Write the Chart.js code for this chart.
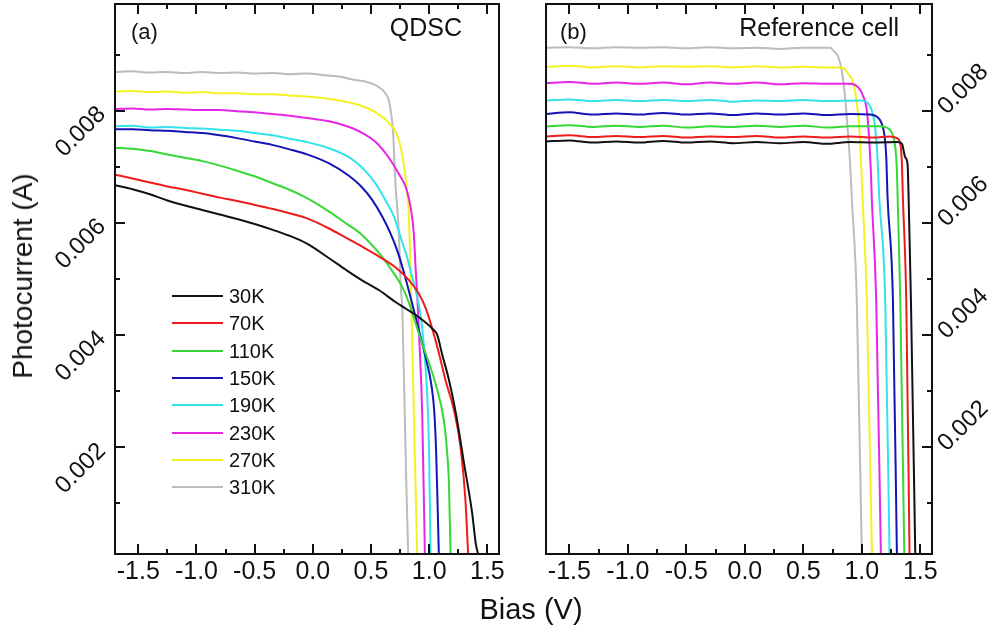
<!DOCTYPE html>
<html>
<head>
<meta charset="utf-8">
<script src="https://cdn.jsdelivr.net/npm/chart.js@4.4.1/dist/chart.umd.min.js"></script>
<style>
  body { margin: 0; background: #fff; }
  #wrap { position: relative; width: 1000px; height: 632px; overflow: hidden; font-family: 'Liberation Sans', Arial, sans-serif; color: #111; }
  canvas { position: absolute; top: 0; }
  .txt { position: absolute; line-height: 1; white-space: nowrap; }
  .legend-row { position: absolute; left: 172px; height: 20px; }
  .legend-row span.ln { position: absolute; left: 0; top: 9px; width: 51px; height: 2px; }
  .legend-row span.lb { position: absolute; left: 57px; top: 0; font-size: 20px; line-height: 20px; }
</style>
</head>
<body>
<div id="wrap">
  <canvas id="chartA" width="520" height="632" style="left:0"></canvas>
  <canvas id="chartB" width="480" height="632" style="left:520px"></canvas>
  <div class="txt" style="left:131px; top:21px; font-size:22px;">(a)</div>
  <div class="txt" style="right:538px; top:15px; font-size:25px;">QDSC</div>
  <div class="txt" style="left:560px; top:21px; font-size:22px;">(b)</div>
  <div class="txt" style="right:101px; top:15px; font-size:25px;">Reference cell</div>
  <div class="txt" style="left:23px; top:276px; font-size:28px; transform: translate(-50%,-50%) rotate(-90deg);">Photocurrent (A)</div>
  <div class="txt" style="left:531px; top:609px; font-size:29px; transform: translate(-50%,-50%);">Bias (V)</div>
  <div id="legend"></div>
</div>
<script>
// DATA
let labels = ['30K', '70K', '110K', '150K', '190K', '230K', '270K', '310K'];
let colors = ['#111111', '#ee1c1c', '#36d836', '#1414b4', '#34e2ea', '#e626e6', '#f2f222', '#bcbcbc'];

let xTicks = [-1.5, -1.0, -0.5, 0.0, 0.5, 1.0, 1.5];
let xMinor = [-1.25, -0.75, -0.25, 0.25, 0.75, 1.25];
let yTicks = [0.002, 0.004, 0.006, 0.008];
let yMinor = [0.001, 0.003, 0.005, 0.007, 0.009];

// (a) QDSC  [bias V, current A]
let qd30 = [[-1.7,0.00667],[-1.55,0.0066],[-1.4,0.00651],[-1.25,0.0064],[-1.1,0.00631],[-0.95,0.00623],[-0.8,0.00615],[-0.65,0.00607],[-0.5,0.00598],[-0.35,0.00588],[-0.2,0.00577],[-0.05,0.00563],[0.14,0.00537],[0.28,0.00517],[0.42,0.00498],[0.57,0.0048],[0.71,0.00459],[0.8,0.00447],[0.91,0.00432],[1.03,0.00411],[1.07,0.004],[1.11,0.00367],[1.17,0.0032],[1.23,0.0026],[1.3,0.00171],[1.37,0.00082],[1.4,0.00029],[1.42,0.0001]];
let qd70 = [[-1.7,0.00686],[-1.55,0.00679],[-1.4,0.00672],[-1.25,0.00665],[-1.1,0.00659],[-0.95,0.00652],[-0.8,0.00645],[-0.65,0.00639],[-0.5,0.00632],[-0.35,0.00625],[-0.2,0.00617],[-0.05,0.00608],[0.14,0.0059],[0.28,0.00574],[0.42,0.00558],[0.57,0.0054],[0.71,0.00521],[0.83,0.00497],[0.91,0.00474],[0.97,0.00448],[1.07,0.00379],[1.14,0.0032],[1.22,0.0026],[1.27,0.002],[1.31,0.00111],[1.335,0.0001]];
let qd110 = [[-1.7,0.00734],[-1.55,0.00732],[-1.4,0.00728],[-1.25,0.00722],[-1.1,0.00716],[-0.95,0.0071],[-0.8,0.00702],[-0.65,0.00693],[-0.5,0.00683],[-0.35,0.00671],[-0.2,0.00659],[-0.05,0.00644],[0.14,0.0062],[0.28,0.006],[0.42,0.00579],[0.57,0.00546],[0.68,0.00515],[0.77,0.00485],[0.84,0.0045],[0.9,0.0041],[0.95,0.00379],[1.055,0.00313],[1.126,0.00248],[1.155,0.00189],[1.169,0.00141],[1.184,0.0001]];
let qd150 = [[-1.7,0.00767],[-1.55,0.00767],[-1.4,0.00765],[-1.25,0.00764],[-1.1,0.00762],[-0.95,0.0076],[-0.8,0.00756],[-0.65,0.00751],[-0.5,0.00745],[-0.35,0.00739],[-0.2,0.00731],[-0.05,0.00722],[0.14,0.00706],[0.31,0.00684],[0.42,0.00664],[0.51,0.00641],[0.6,0.0061],[0.67,0.0058],[0.725,0.00551],[0.77,0.00521],[0.81,0.00491],[0.854,0.00456],[0.91,0.0041],[0.97,0.0036],[1.02,0.0031],[1.045,0.0026],[1.06,0.0019],[1.072,0.001],[1.083,0.0001]];
let qd190 = [[-1.7,0.00772],[-1.55,0.00773],[-1.4,0.0077],[-1.25,0.00771],[-1.1,0.00769],[-0.95,0.00768],[-0.8,0.00766],[-0.65,0.00764],[-0.5,0.0076],[-0.35,0.00756],[-0.2,0.0075],[-0.05,0.00744],[0.14,0.00733],[0.31,0.00717],[0.42,0.00699],[0.54,0.0067],[0.625,0.0064],[0.7,0.0061],[0.755,0.00574],[0.81,0.00539],[0.855,0.00503],[0.897,0.00468],[0.93,0.0043],[0.97,0.0034],[0.99,0.0026],[1.0,0.0018],[1.012,0.0001]];
let qd230 = [[-1.7,0.00803],[-1.55,0.00804],[-1.4,0.00802],[-1.25,0.00803],[-1.1,0.00802],[-0.95,0.00801],[-0.8,0.00801],[-0.65,0.00799],[-0.5,0.00797],[-0.35,0.00794],[-0.2,0.00791],[-0.05,0.00787],[0.14,0.00781],[0.28,0.00773],[0.42,0.00761],[0.54,0.00744],[0.65,0.00717],[0.74,0.00687],[0.8,0.00663],[0.84,0.00628],[0.868,0.00581],[0.883,0.00521],[0.9,0.0046],[0.92,0.0037],[0.94,0.0026],[0.963,0.0001]];
let qd270 = [[-1.7,0.00834],[-1.55,0.00835],[-1.4,0.00833],[-1.25,0.00834],[-1.1,0.00832],[-0.95,0.00833],[-0.8,0.00831],[-0.65,0.00831],[-0.5,0.00829],[-0.35,0.00829],[-0.2,0.00827],[-0.05,0.00825],[0.1,0.00822],[0.25,0.00817],[0.4,0.0081],[0.54,0.00797],[0.65,0.00779],[0.72,0.00759],[0.755,0.00735],[0.785,0.00699],[0.81,0.00658],[0.826,0.0061],[0.835,0.0055],[0.842,0.0049],[0.855,0.0038],[0.868,0.0026],[0.897,0.0001]];
let qd310 = [[-1.7,0.00869],[-1.55,0.0087],[-1.4,0.00868],[-1.25,0.00869],[-1.1,0.00867],[-0.95,0.00869],[-0.8,0.00867],[-0.65,0.00868],[-0.5,0.00866],[-0.35,0.00867],[-0.2,0.00865],[-0.05,0.00866],[0.1,0.00863],[0.25,0.0086],[0.35,0.00855],[0.45,0.00852],[0.55,0.00844],[0.62,0.00832],[0.66,0.00812],[0.69,0.0076],[0.71,0.0067],[0.74,0.0058],[0.755,0.0049],[0.77,0.0044],[0.79,0.0026],[0.805,0.0012],[0.82,0.0001]];

// (b) reference cell
let rc30 = [[-1.7,0.00745],[-1.5,0.00747],[-1.3,0.00743],[-1.1,0.00745],[-0.9,0.00743],[-0.7,0.00746],[-0.5,0.00743],[-0.3,0.00745],[-0.1,0.00742],[0.1,0.00744],[0.3,0.00742],[0.5,0.00744],[0.7,0.00741],[0.9,0.00744],[1.1,0.00743],[1.3,0.00744],[1.343,0.00741],[1.371,0.00717],[1.391,0.00705],[1.4,0.00646],[1.42,0.00462],[1.457,0.0001]];
let rc70 = [[-1.7,0.00754],[-1.5,0.00756],[-1.3,0.00753],[-1.1,0.00755],[-0.9,0.00753],[-0.7,0.00755],[-0.5,0.00752],[-0.3,0.00754],[-0.1,0.00753],[0.1,0.00755],[0.3,0.00752],[0.5,0.00754],[0.7,0.00752],[0.9,0.00754],[1.1,0.00752],[1.243,0.00754],[1.3,0.00751],[1.329,0.00741],[1.343,0.00705],[1.351,0.00646],[1.38,0.00462],[1.408,0.0001]];
let rc110 = [[-1.7,0.00772],[-1.5,0.00774],[-1.3,0.00771],[-1.1,0.00773],[-0.9,0.00771],[-0.7,0.00773],[-0.5,0.0077],[-0.3,0.00772],[-0.1,0.00771],[0.1,0.00773],[0.3,0.00771],[0.5,0.00773],[0.7,0.0077],[0.9,0.00772],[1.157,0.00772],[1.22,0.00769],[1.263,0.00758],[1.286,0.00735],[1.3,0.00693],[1.306,0.00646],[1.329,0.00462],[1.363,0.0001]];
let rc150 = [[-1.7,0.00794],[-1.5,0.00797],[-1.3,0.00793],[-1.1,0.00795],[-0.9,0.00793],[-0.7,0.00796],[-0.5,0.00793],[-0.3,0.00795],[-0.1,0.00792],[0.1,0.00795],[0.3,0.00793],[0.5,0.00795],[0.7,0.00792],[0.9,0.00794],[1.071,0.00793],[1.129,0.00789],[1.166,0.00779],[1.192,0.00758],[1.209,0.00717],[1.22,0.00646],[1.266,0.00462],[1.3,0.0001]];
let rc190 = [[-1.7,0.00818],[-1.5,0.0082],[-1.3,0.00817],[-1.1,0.00819],[-0.9,0.00817],[-0.7,0.00819],[-0.5,0.00817],[-0.3,0.00819],[-0.1,0.00816],[0.1,0.00818],[0.3,0.00817],[0.5,0.00819],[0.7,0.00817],[0.986,0.00818],[1.043,0.00815],[1.086,0.008],[1.114,0.0077],[1.134,0.00717],[1.149,0.00646],[1.2,0.00462],[1.237,0.0001]];
let rc230 = [[-1.7,0.00849],[-1.5,0.00851],[-1.3,0.00848],[-1.1,0.0085],[-0.9,0.00848],[-0.7,0.0085],[-0.5,0.00847],[-0.3,0.0085],[-0.1,0.00848],[0.1,0.0085],[0.3,0.00847],[0.5,0.00849],[0.7,0.00848],[0.9,0.00848],[0.971,0.00841],[1.009,0.00827],[1.043,0.008],[1.062,0.00752],[1.077,0.00693],[1.086,0.0064],[1.123,0.00462],[1.163,0.0001]];
let rc270 = [[-1.7,0.00878],[-1.5,0.0088],[-1.3,0.00877],[-1.1,0.00879],[-0.9,0.00877],[-0.7,0.00879],[-0.5,0.00878],[-0.3,0.00879],[-0.1,0.00877],[0.1,0.00879],[0.3,0.00877],[0.5,0.00878],[0.7,0.00877],[0.81,0.00877],[0.843,0.00876],[0.886,0.00865],[0.929,0.00848],[0.957,0.00812],[0.98,0.00764],[0.994,0.00705],[1.006,0.00646],[1.043,0.00462],[1.086,0.0001]];
let rc310 = [[-1.7,0.00912],[-1.5,0.00913],[-1.3,0.00911],[-1.1,0.00913],[-0.9,0.00912],[-0.7,0.00913],[-0.5,0.00911],[-0.3,0.00913],[-0.1,0.00911],[0.1,0.00912],[0.3,0.0091],[0.5,0.00912],[0.73,0.00912],[0.757,0.00907],[0.8,0.00895],[0.829,0.00871],[0.857,0.00824],[0.88,0.00764],[0.9,0.00705],[0.914,0.00646],[0.957,0.00462],[1.0,0.0001]];

let qdscSeries = [qd30, qd70, qd110, qd150, qd190, qd230, qd270, qd310];
let refSeries = [rc30, rc70, rc110, rc150, rc190, rc230, rc270, rc310];

let fontFam = "'Liberation Sans', Arial, sans-serif";

// inward ticks + frame, Origin style
const frameTicks = {
  id: 'frameTicks',
  afterDraw(chart, args, opts) {
    const ctx = chart.ctx, a = chart.chartArea;
    const sx = chart.scales.x, sy = chart.scales.y;
    ctx.save();
    ctx.strokeStyle = '#111';
    ctx.lineWidth = 2;
    ctx.beginPath();
    const xt = (vals, len) => vals.forEach(v => {
      const p = Math.round(sx.getPixelForValue(v));
      ctx.moveTo(p, a.bottom); ctx.lineTo(p, a.bottom - len);
      ctx.moveTo(p, a.top); ctx.lineTo(p, a.top + len);
    });
    const yt = (vals, len) => vals.forEach(v => {
      const p = Math.round(sy.getPixelForValue(v));
      if (opts.side === 'left') { ctx.moveTo(a.left, p); ctx.lineTo(a.left + len, p); }
      else { ctx.moveTo(a.right, p); ctx.lineTo(a.right - len, p); }
    });
    xt(xTicks, 10); xt(xMinor, 5);
    yt(yTicks, 10); yt(yMinor, 5);
    ctx.stroke();
    ctx.strokeRect(a.left, a.top, a.right - a.left, a.bottom - a.top);
    ctx.restore();
  }
};

function noPad(s) {
  s.paddingTop = 0; s.paddingBottom = 0; s.paddingLeft = 0; s.paddingRight = 0;
}

function makeDatasets(series) {
  return series.map((s, i) => ({
    label: labels[i],
    data: s.map(p => ({x: p[0], y: p[1]})),
    borderColor: colors[i],
    borderWidth: 2,
    pointRadius: 0,
    showLine: true,
    fill: false,
    cubicInterpolationMode: 'monotone'
  }));
}

function makeChart(id, series, side, pad, yWidth) {
  return new Chart(document.getElementById(id), {
    type: 'scatter',
    data: { datasets: makeDatasets(series) },
    plugins: [frameTicks],
    options: {
      responsive: false,
      animation: false,
      devicePixelRatio: 1,
      layout: { padding: pad },
      plugins: {
        legend: { display: false },
        tooltip: { enabled: false },
        frameTicks: { side: side }
      },
      scales: {
        x: {
          type: 'linear', position: 'bottom', min: -1.7, max: 1.6,
          afterBuildTicks: s => { s.ticks = xTicks.map(v => ({value: v})); },
          afterFit: s => { s.height = 78; noPad(s); },
          grid: { display: false, drawTicks: false },
          border: { display: false },
          ticks: { color: '#111', padding: 3, maxRotation: 0, autoSkip: false,
                   font: { size: 25, family: fontFam },
                   callback: v => v.toFixed(1) }
        },
        y: {
          type: 'linear', position: side, min: 0.0001, max: 0.0099,
          afterBuildTicks: s => { s.ticks = yTicks.map(v => ({value: v})); },
          afterFit: s => { s.width = yWidth; noPad(s); },
          grid: { display: false, drawTicks: false },
          border: { display: false },
          ticks: { color: '#111', padding: side === 'left' ? 13 : 10, minRotation: 45, maxRotation: 45, autoSkip: false,
                   font: { size: 24, family: fontFam },
                   callback: v => v.toFixed(3) }
        }
      }
    }
  });
}

makeChart('chartA', qdscSeries, 'left', {left: 0, right: 21, top: 4, bottom: 0}, 115);
makeChart('chartB', refSeries, 'right', {left: 26, right: 0, top: 4, bottom: 0}, 68);

// legend
let lg = document.getElementById('legend');
labels.forEach((l, i) => {
  let row = document.createElement('div');
  row.className = 'legend-row';
  row.style.top = (286 + i * 27.3) + 'px';
  row.innerHTML = '<span class="ln" style="background:' + colors[i] + '"></span><span class="lb">' + l + '</span>';
  lg.appendChild(row);
});
</script>
</body>
</html>
